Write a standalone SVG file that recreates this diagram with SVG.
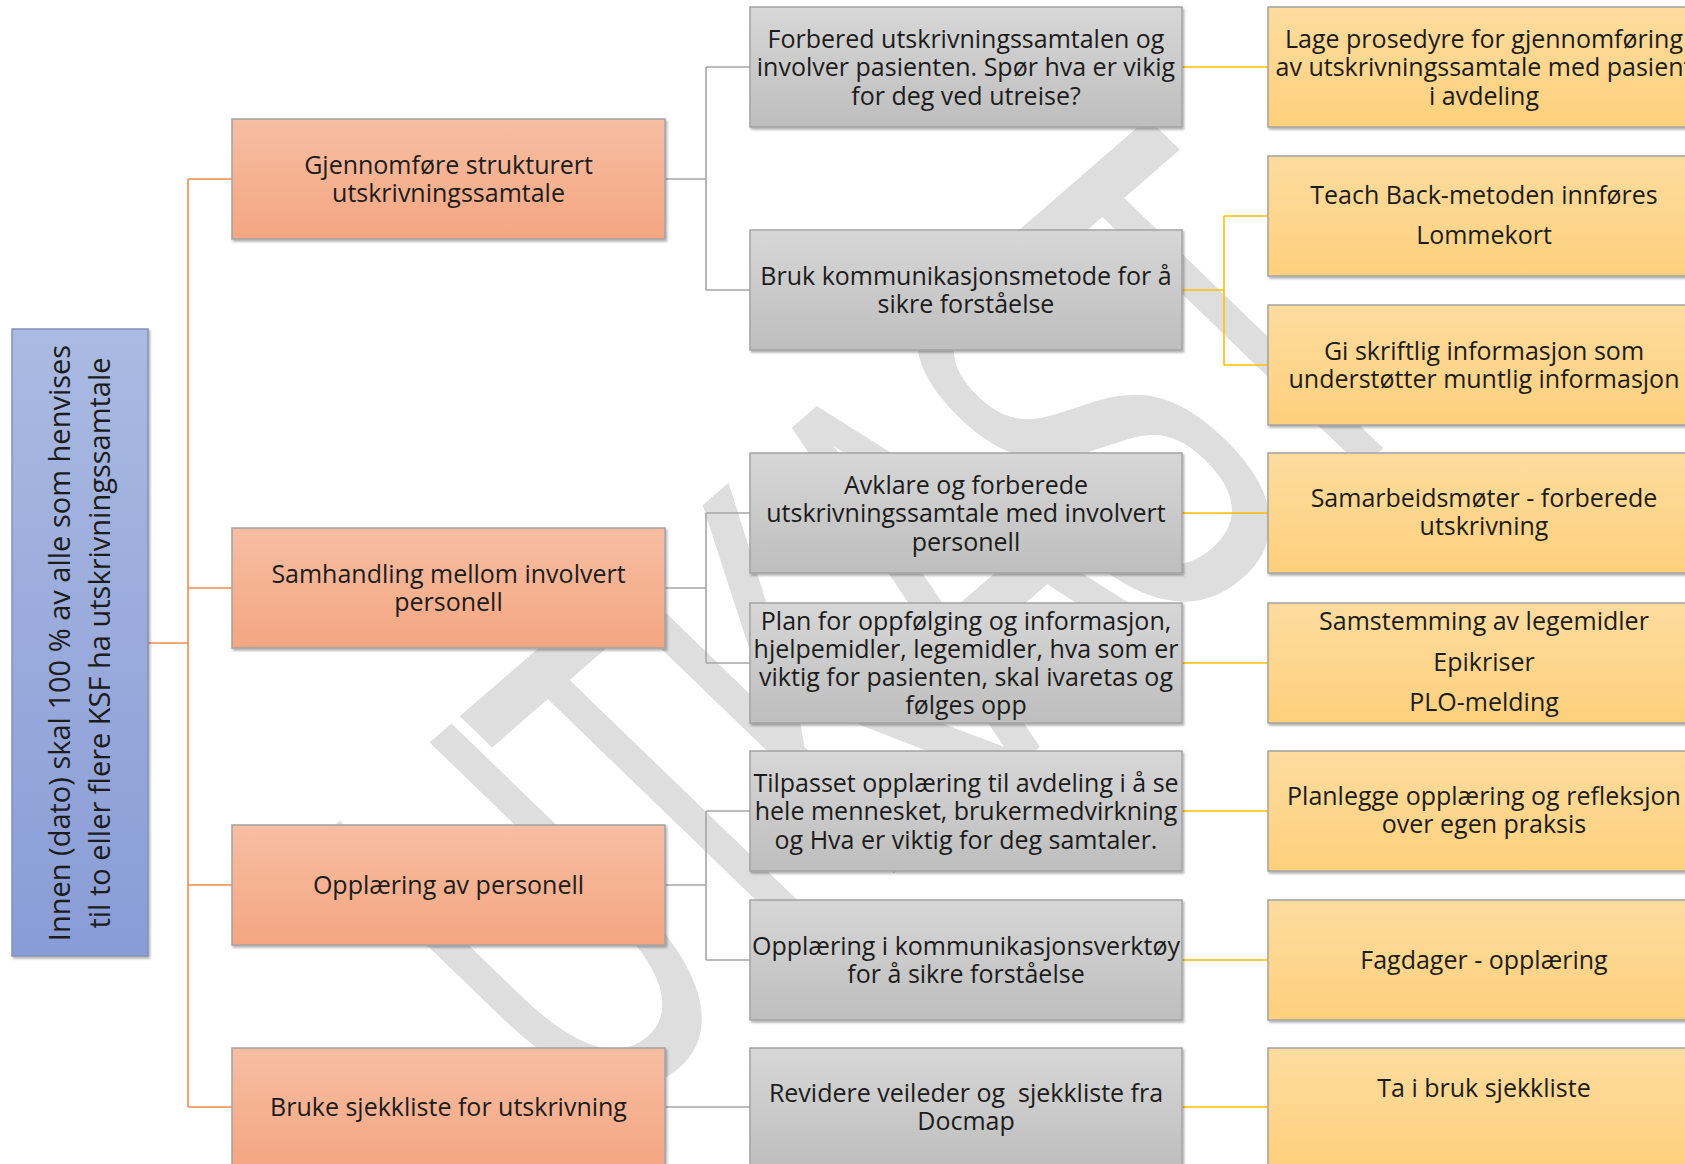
<svg xmlns="http://www.w3.org/2000/svg" width="1685" height="1164" viewBox="0 0 1685 1164">
<defs>
<linearGradient id="gOr" x1="0" y1="0" x2="0" y2="1"><stop offset="0" stop-color="#F7BEA3"/><stop offset="1" stop-color="#F4A681"/></linearGradient>
<linearGradient id="gGr" x1="0" y1="0" x2="0" y2="1"><stop offset="0" stop-color="#D7D7D7"/><stop offset="1" stop-color="#BEBEBE"/></linearGradient>
<linearGradient id="gYe" x1="0" y1="0" x2="0" y2="1"><stop offset="0" stop-color="#FEDC9F"/><stop offset="1" stop-color="#FDD07C"/></linearGradient>
<linearGradient id="gBl" x1="0" y1="0" x2="0" y2="1"><stop offset="0" stop-color="#AABAE2"/><stop offset="1" stop-color="#899CD6"/></linearGradient>
<filter id="sh" x="-5%" y="-5%" width="110%" height="115%"><feDropShadow dx="1.5" dy="2" stdDeviation="1.2" flood-color="#000" flood-opacity="0.3"/></filter>
</defs>
<style>
.box{stroke:#A3A3A3;stroke-width:1.5;filter:url(#sh)}
.or{fill:url(#gOr)}
.gr{fill:url(#gGr)}
.ye{fill:url(#gYe)}
.bl{fill:url(#gBl);stroke:#8592B8}
.t{font-family:"Open Sans","Liberation Sans",sans-serif;font-size:25px;fill:#1C1C1C;text-anchor:middle}
.rt{font-family:"Open Sans","Liberation Sans",sans-serif;font-size:29px;fill:#1C1C1C;text-anchor:middle}
.co{fill:none;stroke-width:1.6}
.c1{stroke:#F38A4C}
.c2{stroke:#A6A6A6}
.c3{stroke:#FFC000}
.wm{font-family:"Liberation Sans",sans-serif;font-size:312px;fill:#DEDEDE;letter-spacing:-20px}
</style>
<rect width="1685" height="1164" fill="#FFFFFF"/>
<text class="wm" transform="translate(591,1137) rotate(-41) skewX(5) scale(1,1.88)">UTKAST</text>
<g id="connectors">
<path class="co c1" d="M148,643 H188 M188,179 V1107 M188,179 H232 M188,588 H232 M188,885 H232 M188,1107 H232"/>
<path class="co c2" d="M665,179 H706 M706,67 V290 M706,67 H750 M706,290 H750"/>
<path class="co c2" d="M665,588 H706 M706,513 V663 M706,513 H750 M706,663 H750"/>
<path class="co c2" d="M665,885 H706 M706,811 V960 M706,811 H750 M706,960 H750"/>
<path class="co c2" d="M665,1107 H750"/>
<path class="co c3" d="M1182,67 H1268"/>
<path class="co c3" d="M1182,290 H1224 M1224,216 V365 M1224,216 H1268 M1224,365 H1268"/>
<path class="co c3" d="M1182,513 H1268 M1182,663 H1268 M1182,811 H1268 M1182,960 H1268 M1182,1107 H1268"/>
</g>
<g id="root">
<rect class="box bl" x="12" y="329" width="136" height="627"/>
<text class="rt" transform="translate(70,643) rotate(-90)">Innen (dato) skal 100 % av alle som henvises</text>
<text class="rt" transform="translate(110,643) rotate(-90)">til to eller flere KSF ha utskrivningssamtale</text>
</g>
<g id="o1"><rect class="box or" x="232" y="119" width="433" height="120"/>
<text class="t" x="448.5" y="174">Gjennomføre strukturert</text><text class="t" x="448.5" y="202">utskrivningssamtale</text></g>
<g id="o2"><rect class="box or" x="232" y="528" width="433" height="120"/>
<text class="t" x="448.5" y="582.5">Samhandling mellom involvert</text><text class="t" x="448.5" y="610.5">personell</text></g>
<g id="o3"><rect class="box or" x="232" y="825" width="433" height="120"/>
<text class="t" x="448.5" y="893.5">Opplæring av personell</text></g>
<g id="o4"><rect class="box or" x="232" y="1048" width="433" height="120"/>
<text class="t" x="448.5" y="1116">Bruke sjekkliste for utskrivning</text></g>
<g id="g1"><rect class="box gr" x="750" y="7" width="432" height="120"/>
<text class="t" x="966" y="47.5">Forbered utskrivningssamtalen og</text><text class="t" x="966" y="76">involver pasienten. Spør hva er vikig</text><text class="t" x="966" y="104.5">for deg ved utreise?</text></g>
<g id="g2"><rect class="box gr" x="750" y="230" width="432" height="120"/>
<text class="t" x="966" y="285">Bruk kommunikasjonsmetode for å</text><text class="t" x="966" y="313">sikre forståelse</text></g>
<g id="g3"><rect class="box gr" x="750" y="453" width="432" height="120"/>
<text class="t" x="966" y="493.5">Avklare og forberede</text><text class="t" x="966" y="522">utskrivningssamtale med involvert</text><text class="t" x="966" y="550.5">personell</text></g>
<g id="g4"><rect class="box gr" x="750" y="603" width="432" height="120"/>
<text class="t" x="966" y="630">Plan for oppfølging og informasjon,</text><text class="t" x="966" y="658">hjelpemidler, legemidler, hva som er</text><text class="t" x="966" y="686">viktig for pasienten, skal ivaretas og</text><text class="t" x="966" y="714">følges opp</text></g>
<g id="g5"><rect class="box gr" x="750" y="751" width="432" height="120"/>
<text class="t" x="966" y="791.5">Tilpasset opplæring til avdeling i å se</text><text class="t" x="966" y="820">hele mennesket, brukermedvirkning</text><text class="t" x="966" y="848.5">og Hva er viktig for deg samtaler.</text></g>
<g id="g6"><rect class="box gr" x="750" y="900" width="432" height="120"/>
<text class="t" x="966" y="955">Opplæring i kommunikasjonsverktøy</text><text class="t" x="966" y="983">for å sikre forståelse</text></g>
<g id="g7"><rect class="box gr" x="750" y="1048" width="432" height="120"/>
<text class="t" x="966" y="1102" xml:space="preserve">Revidere veileder og  sjekkliste fra</text><text class="t" x="966" y="1130">Docmap</text></g>
<g id="y1"><rect class="box ye" x="1268" y="7" width="432" height="120"/>
<text class="t" x="1484" y="47.5">Lage prosedyre for gjennomføring</text><text class="t" x="1484" y="76">av utskrivningssamtale med pasient</text><text class="t" x="1484" y="104.5">i avdeling</text></g>
<g id="y2"><rect class="box ye" x="1268" y="156" width="432" height="120"/>
<text class="t" x="1484" y="204">Teach Back-metoden innføres</text><text class="t" x="1484" y="244">Lommekort</text></g>
<g id="y3"><rect class="box ye" x="1268" y="305" width="432" height="120"/>
<text class="t" x="1484" y="360">Gi skriftlig informasjon som</text><text class="t" x="1484" y="388">understøtter muntlig informasjon</text></g>
<g id="y4"><rect class="box ye" x="1268" y="453" width="432" height="120"/>
<text class="t" x="1484" y="507">Samarbeidsmøter - forberede</text><text class="t" x="1484" y="535">utskrivning</text></g>
<g id="y5"><rect class="box ye" x="1268" y="603" width="432" height="120"/>
<text class="t" x="1484" y="630">Samstemming av legemidler</text><text class="t" x="1484" y="670.5">Epikriser</text><text class="t" x="1484" y="711">PLO-melding</text></g>
<g id="y6"><rect class="box ye" x="1268" y="751" width="432" height="120"/>
<text class="t" x="1484" y="805">Planlegge opplæring og refleksjon</text><text class="t" x="1484" y="833">over egen praksis</text></g>
<g id="y7"><rect class="box ye" x="1268" y="900" width="432" height="120"/>
<text class="t" x="1484" y="969">Fagdager - opplæring</text></g>
<g id="y8"><rect class="box ye" x="1268" y="1048" width="432" height="120"/>
<text class="t" x="1484" y="1097">Ta i bruk sjekkliste</text></g>
</svg>
